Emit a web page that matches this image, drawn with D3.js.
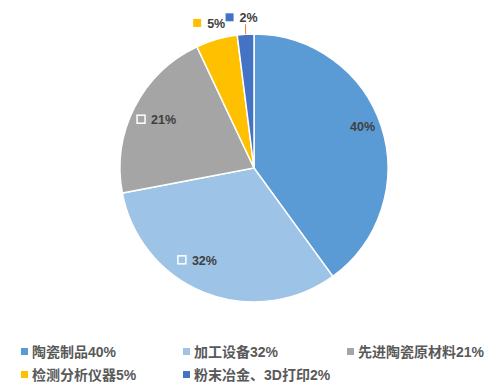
<!DOCTYPE html>
<html>
<head>
<meta charset="utf-8">
<script src="https://cdn.jsdelivr.net/npm/d3@7"></script>
<style>
  body { margin: 0; background: #fff; }
  text { font-family: "Liberation Sans", "Noto Sans CJK SC", sans-serif; }
</style>
</head>
<body>
<script>
// chart data
var categories = ["陶瓷制品", "加工设备", "先进陶瓷原材料", "检测分析仪器", "粉末冶金、3D打印"];
var shares = [40, 32, 21, 5, 2];
var colours = ["#5B9BD5", "#9DC3E6", "#A5A5A5", "#FFC000", "#4472C4"];

// layout: small angular nudges (degrees) for the data labels, like Excel's best fit
var labelNudge = [-4, 10, -1, 0, 0];

var width = 502, height = 391;
var cx = 254, cy = 168, radius = 134;

var svg = d3.select("body").append("svg")
    .attr("width", width)
    .attr("height", height);

var pie = d3.pie().sort(null).value(function (d) { return d; });
var arcs = pie(shares);

var arc = d3.arc().innerRadius(0).outerRadius(radius);
var edge = d3.arc().innerRadius(radius).outerRadius(radius);

function labelPos(d, i) {
    var r = d.data < 10 ? 150 : 109;
    var a = (d.startAngle + d.endAngle) / 2 + labelNudge[i] * Math.PI / 180;
    return [r * Math.sin(a), -r * Math.cos(a)];
}

var g = svg.append("g").attr("transform", "translate(" + cx + "," + cy + ")");

g.selectAll("path.slice")
    .data(arcs)
    .enter().append("path")
    .attr("class", "slice")
    .attr("d", arc)
    .attr("fill", function (d, i) { return colours[i]; })
    .attr("stroke", "#fff")
    .attr("stroke-width", 1.5);

// data labels: small slices go outside
function isOutside(d) { return d.data < 10; }

// leader line for the smallest slice
arcs.forEach(function (d, i) {
    if (i === 4) {
        var e = edge.centroid(d), l = labelPos(d, i);
        g.append("line")
            .attr("x1", e[0]).attr("y1", e[1])
            .attr("x2", e[0]).attr("y2", l[1] + 6)
            .attr("stroke", "#ED7D31")
            .attr("stroke-width", 1);
    }
});

var labels = g.selectAll("g.label")
    .data(arcs)
    .enter().append("g")
    .attr("class", "label")
    .attr("transform", function (d, i) {
        var p = labelPos(d, i);
        return "translate(" + p[0] + "," + p[1] + ")";
    });

labels.append("rect")
    .attr("x", -19).attr("y", -5)
    .attr("width", 8).attr("height", 8)
    .attr("fill", function (d, i) { return colours[i]; })
    .attr("stroke", function (d, i) { return isOutside(d) ? "none" : "#fff"; })
    .attr("stroke-width", function (d, i) { return i === 0 ? 0 : 1.5; });

labels.append("text")
    .attr("x", -5)
    .attr("y", 4)
    .attr("font-size", 12.5)
    .attr("font-weight", "bold")
    .attr("fill", "#404040")
    .text(function (d) { return d.data + "%"; });

// legend
var legendX = [21, 183, 347];
var legendY = [352, 375];
var legend = svg.selectAll("g.legend")
    .data(categories)
    .enter().append("g")
    .attr("class", "legend")
    .attr("transform", function (d, i) {
        return "translate(" + legendX[i % 3] + "," + legendY[Math.floor(i / 3)] + ")";
    });

legend.append("rect")
    .attr("x", 0).attr("y", -4)
    .attr("width", 7).attr("height", 7)
    .attr("fill", function (d, i) { return colours[i]; });

legend.append("text")
    .attr("x", 11)
    .attr("y", 5)
    .attr("font-size", 14)
    .attr("font-weight", "bold")
    .attr("fill", "#595959")
    .text(function (d, i) { return d + shares[i] + "%"; });
</script>
</body>
</html>
